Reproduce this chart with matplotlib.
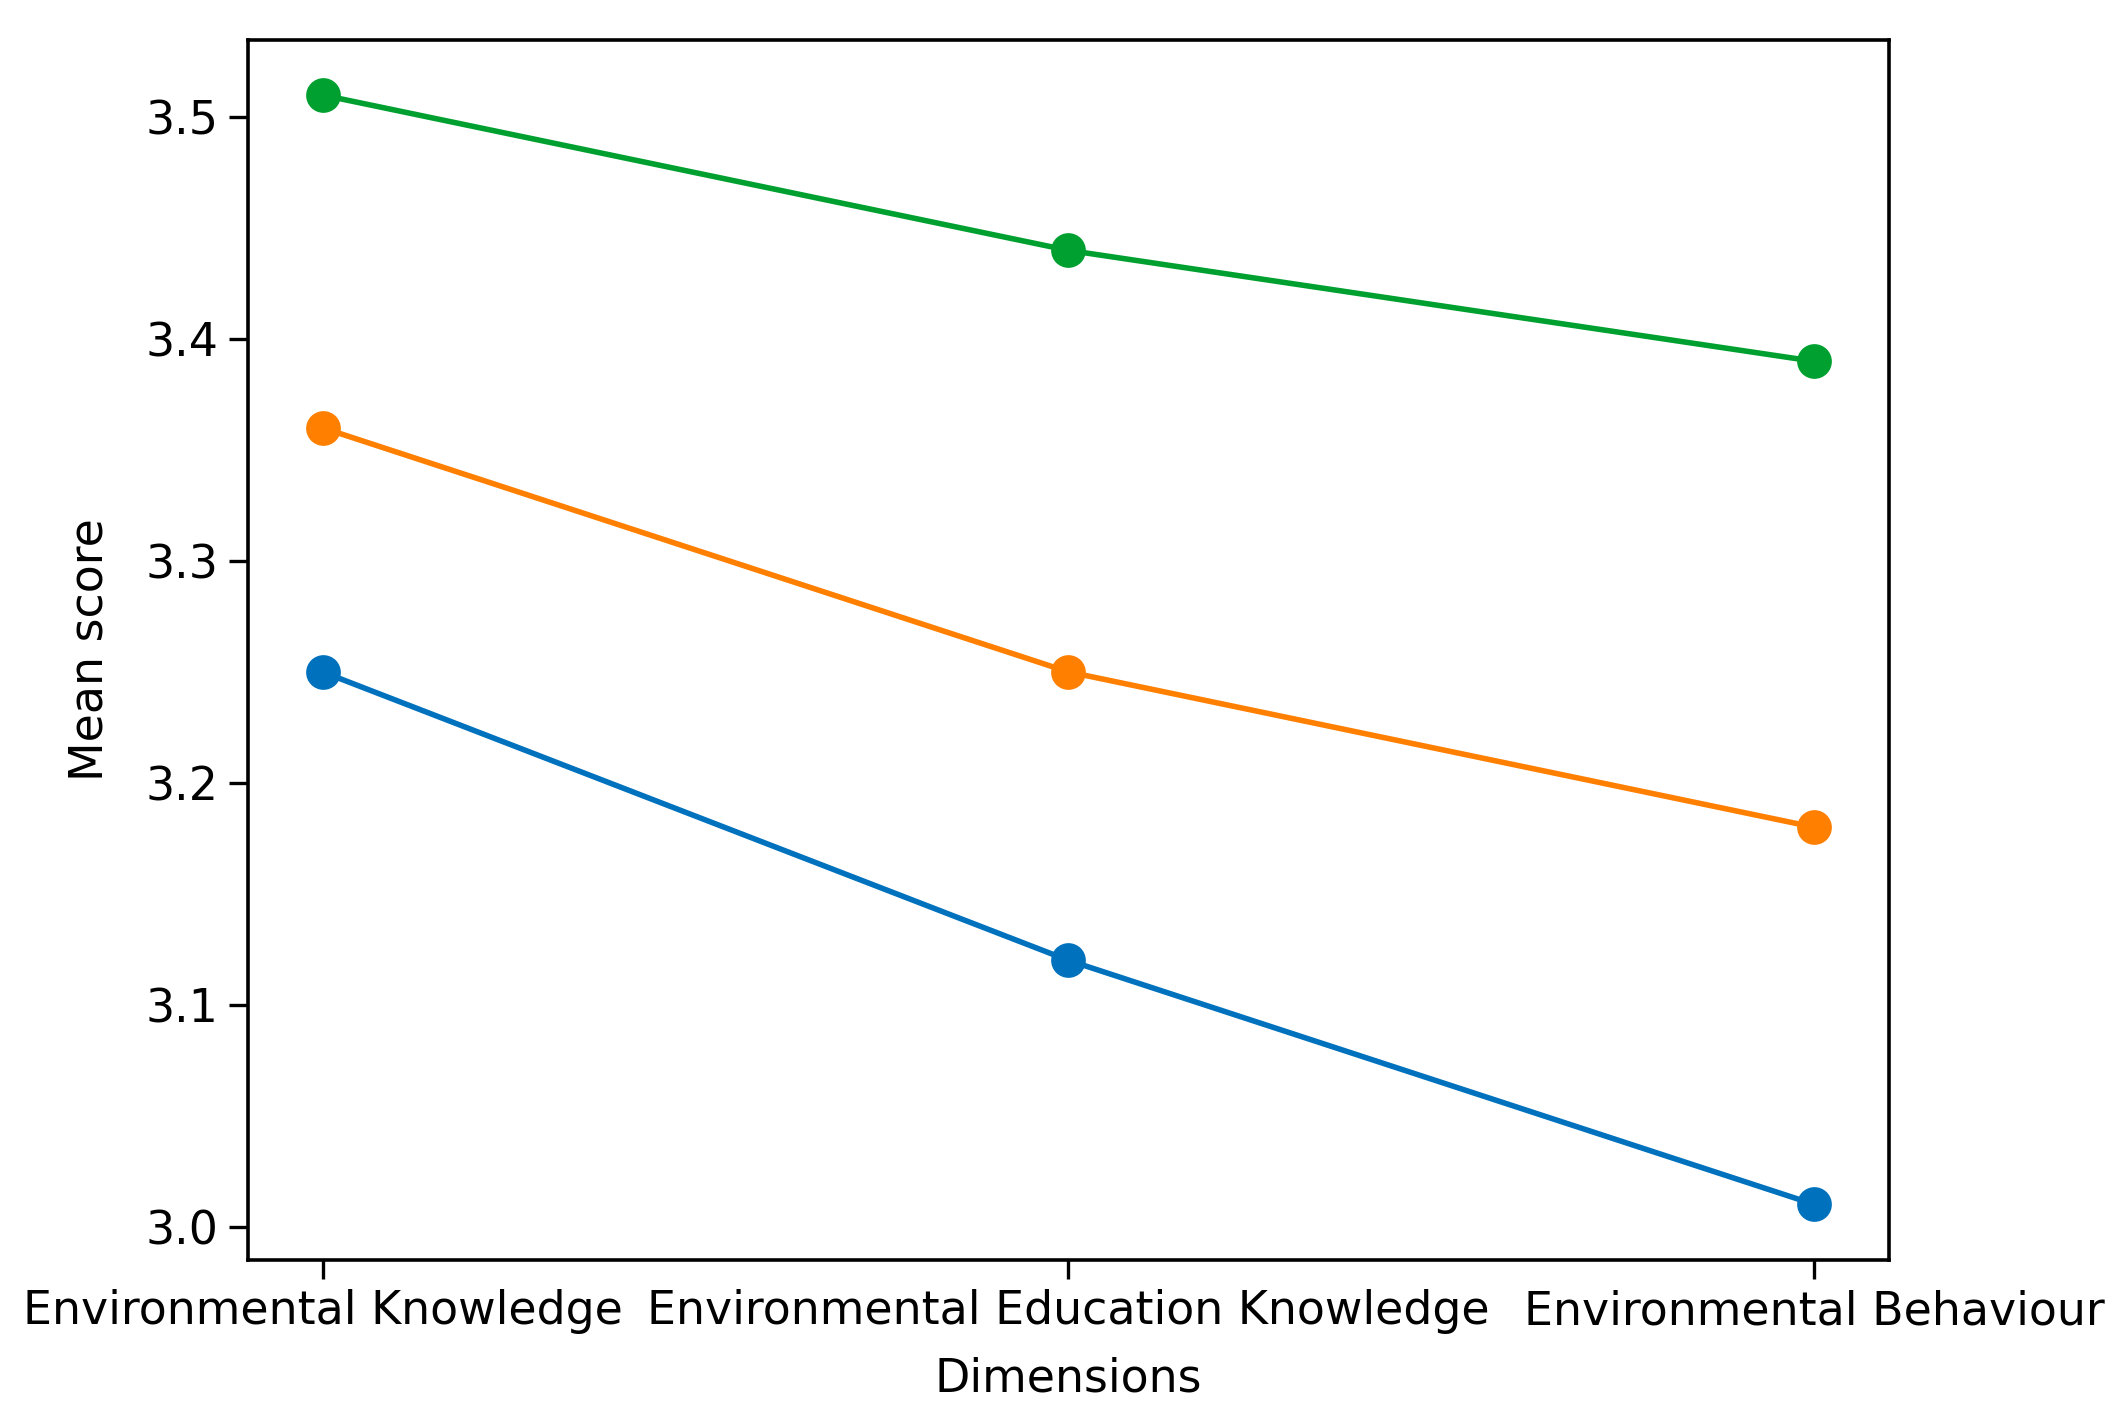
import matplotlib
matplotlib.use("Agg")
import matplotlib.pyplot as plt

dimensions = ["Environmental Knowledge", "Environmental Education Knowledge", "Environmental Behaviour"]
group_low = [3.25, 3.12, 3.01]
group_mid = [3.36, 3.25, 3.18]
group_high = [3.51, 3.44, 3.39]

fig = plt.figure(figsize=(10.6, 7.07), dpi=200)
ax = fig.add_axes([0.117, 0.109, 0.774, 0.863])

x = range(len(dimensions))
ax.plot(x, group_low, "-o", color="#0072bd", lw=2.0, ms=11.5)
ax.plot(x, group_mid, "-o", color="#ff7f00", lw=2.0, ms=11.5)
ax.plot(x, group_high, "-o", color="#00a030", lw=2.0, ms=11.5)

ax.set_xticks(list(x))
ax.set_xticklabels(dimensions, fontsize=16.5)
ax.tick_params(axis="y", labelsize=16.5)
ax.tick_params(length=7, width=1.2)
ax.set_xlabel("Dimensions", fontsize=16.5, labelpad=8)
ax.set_ylabel("Mean score", fontsize=16.5, labelpad=12)
for s in ax.spines.values():
    s.set_linewidth(1.3)

fig.savefig("out.png", dpi=200)
